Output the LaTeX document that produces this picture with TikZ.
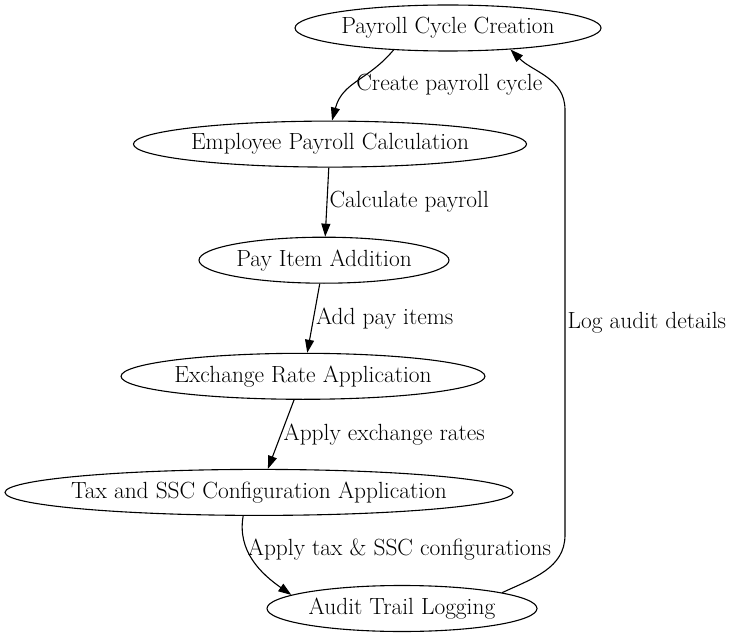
\documentclass[tikz,border=0pt]{standalone}
\usepackage{tikz}
\usetikzlibrary{arrows.meta,shapes.geometric,positioning}

\begin{document}
\begin{tikzpicture}[x=1pt,y=1pt,>={Triangle[length=13pt,width=9pt]},line width=1.1pt,
                    node distance=69pt,
                    main node/.style={ellipse,draw,inner sep=0pt,minimum height=46pt,font=\fontsize{23.4}{27}\selectfont},
                    edge label/.style={anchor=west,inner sep=2pt,font=\fontsize{23.4}{27}\selectfont}]
  \useasboundingbox (0,0) rectangle (731,-639);

  \node[main node, minimum width=306pt] (1) at (448,-28) {Payroll Cycle Creation};
  \node[main node, minimum width=392pt] (2) [below=of 1, xshift=-118pt] {Employee Payroll Calculation};
  \node[main node, minimum width=250pt] (3) [below=of 2, xshift=-6pt] {Pay Item Addition};
  \node[main node, minimum width=362pt] (4) [below=of 3, xshift=-21pt] {Exchange Rate Application};
  \node[main node, minimum width=508pt, inner xsep=-9pt] (5) [below=of 4, xshift=-44pt] {Tax and SSC Configuration Application};
  \node[main node, minimum width=270pt] (6) [below=of 5, xshift=143pt] {Audit Trail Logging};

  \coordinate (up1) at (565,-535);
  \coordinate (up2) at (565,-110);

  \path[->]
    (1.202) edge[out=230,in=75,looseness=1.1] node[edge label,pos=0.55] {Create payroll cycle} (2.85)
    (2) edge node[edge label] {Calculate payroll} (3)
    (3) edge node[edge label] {Add pay items} (4)
    (4) edge node[edge label] {Apply exchange rates} (5)
    (5.236) edge[out=260,in=145] node[edge label,pos=0.36,xshift=-2pt] {Apply tax \& SSC configurations} (6.173);
  \draw[->] (6.9) to[out=25,in=270] (up1) -- node[edge label,pos=0.5] {Log audit details} (up2)
    to[out=90,in=-45] (1.341);
\end{tikzpicture}
\end{document}
